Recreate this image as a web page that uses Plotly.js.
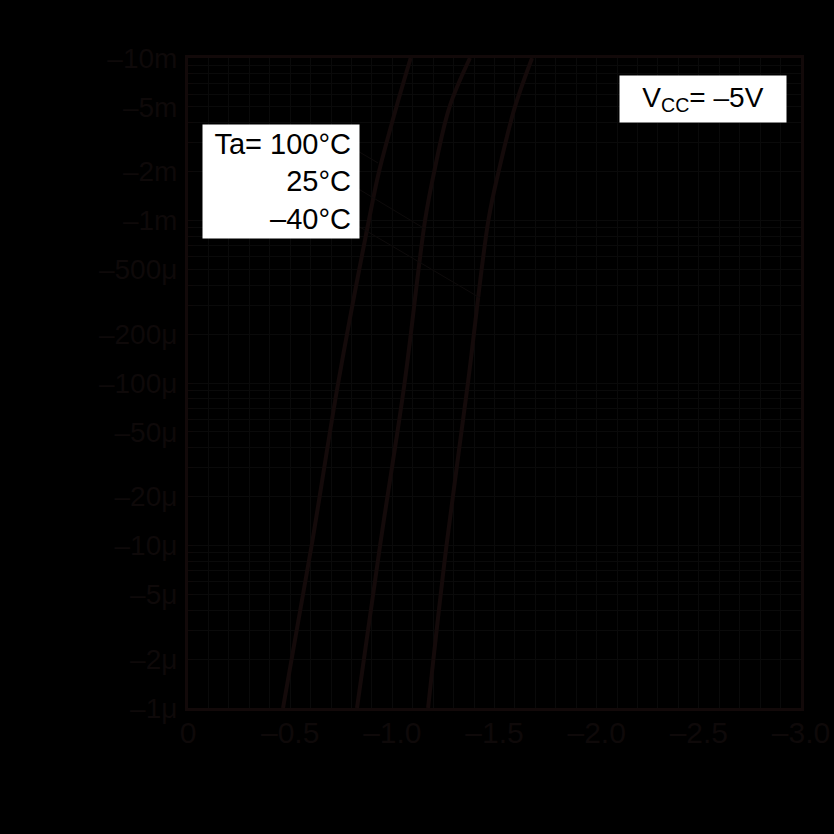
<!DOCTYPE html>
<html>
<head>
<meta charset="utf-8">
<script src="https://cdn.plot.ly/plotly-3.0.1.min.js"></script>
<style>html,body{margin:0;padding:0;background:#000;}#chart{width:834px;height:834px;}</style>
</head>
<body>
<div id="chart"></div>
<script>
// Input current magnitude (A) at which each curve was read
const currentA = [1e-6, 1e-5, 1e-4, 1e-3, 2e-3, 5e-3, 1e-2];
// Input voltage (V) for each temperature
const vTa100 = [-0.465, -0.605, -0.735, -0.885, -0.935, -1.02, -1.09];
const vTa25  = [-0.827, -0.94, -1.06, -1.16, -1.205, -1.28, -1.38];
const vTaM40 = [-1.175, -1.265, -1.37, -1.47, -1.52, -1.60, -1.684];

// Axis ticks
const xTickVals = [0, -0.5, -1.0, -1.5, -2.0, -2.5, -3.0];
const xTickText = ["0", "–0.5", "–1.0", "–1.5", "–2.0", "–2.5", "–3.0"];
const yLabelVals = [1e-6, 2e-6, 5e-6, 1e-5, 2e-5, 5e-5, 1e-4, 2e-4, 5e-4, 1e-3, 2e-3, 5e-3, 1e-2];
const yLabelText = ["–1μ", "–2μ", "–5μ", "–10μ", "–20μ", "–50μ", "–100μ", "–200μ", "–500μ", "–1m", "–2m", "–5m", "–10m"];

// Legend leader lines: [x0, log y0, x1, log y1]
const leaders = [
  [-0.80, -2.55, -0.93, -2.646],
  [-0.80, -2.78, -1.16, -3.052],
  [-0.80, -3.01, -1.43, -3.477]
];

// all log grid values 1..9 per decade, labelled only where the reference labels them
const yTickVals = [], yTickText = [];
for (let e = -6; e <= -2; e++) {
  for (let m = 1; m <= 9; m++) {
    if (e === -2 && m > 1) break;
    const v = +(m * Math.pow(10, e)).toPrecision(3);
    yTickVals.push(v);
    const idx = yLabelVals.findIndex(u => Math.abs(u - v) / v < 1e-6);
    yTickText.push(idx >= 0 ? yLabelText[idx] : " ");
  }
}

const lineCol = '#140a0a';
const textCol = '#0e0909';
const gridCol = '#0a0a0a';

const mk = (xs, name) => ({
  x: xs, y: currentA, type: 'scatter', mode: 'lines', name: name,
  line: {color: lineCol, width: 4, shape: 'spline', smoothing: 1},
  hoverinfo: 'skip'
});

const data = [mk(vTa100, 'Ta=100°C'), mk(vTa25, 'Ta=25°C'), mk(vTaM40, 'Ta=-40°C')];

const shapes = leaders.map(l => ({
  type: 'line', xref: 'x', yref: 'y',
  x0: l[0], y0: Math.pow(10, l[1]), x1: l[2], y1: Math.pow(10, l[3]),
  line: {color: '#0e0b0b', width: 1}
}));

const layout = {
  width: 834, height: 834,
  paper_bgcolor: '#000000', plot_bgcolor: '#000000',
  margin: {l: 188, r: 33, t: 58, b: 126},
  showlegend: false,
  font: {family: 'Liberation Sans Narrow, Liberation Sans, Arial, sans-serif', color: textCol, size: 28},
  xaxis: {
    range: [0, -3], tickmode: 'array', tickvals: xTickVals, ticktext: xTickText,
    showline: true, linecolor: '#120909', linewidth: 3, mirror: true,
    showgrid: true, gridcolor: gridCol, gridwidth: 1,
    minor: {dtick: 0.1, showgrid: true, gridcolor: gridCol, gridwidth: 1},
    ticks: '', zeroline: false, ticklabelstandoff: -4,
    tickfont: {size: 30, color: textCol}
  },
  yaxis: {
    type: 'log', range: [-6, -2], tickmode: 'array',
    tickvals: yTickVals, ticktext: yTickText,
    showline: true, linecolor: '#120909', linewidth: 3, mirror: true,
    showgrid: true, gridcolor: gridCol, gridwidth: 1,
    ticks: 'inside', ticklen: 5, tickcolor: '#0e0909',
    zeroline: false, ticklabelstandoff: 2,
    tickfont: {size: 28, color: textCol}
  },
  shapes: shapes,
  annotations: [
    {
      xref: 'paper', yref: 'paper', x: (202 - 188) / 613, y: 1 - (124 - 58) / 650,
      xanchor: 'left', yanchor: 'top', showarrow: false, align: 'right',
      text: 'Ta= 100°C<br>25°C<br>–40°C',
      bgcolor: '#ffffff', borderpad: 8, width: 140, height: 97,
      font: {family: 'Liberation Sans, Arial, sans-serif', size: 29, color: '#000000'}
    },
    {
      xref: 'paper', yref: 'paper', x: (619 - 188) / 613, y: 1 - (75 - 58) / 650,
      xanchor: 'left', yanchor: 'top', showarrow: false, align: 'center',
      text: 'V<sub>CC</sub>= –5V', width: 158, height: 38,
      bgcolor: '#ffffff', borderpad: 4,
      font: {family: 'Liberation Sans, Arial, sans-serif', size: 28, color: '#000000'}
    }
  ]
};

Plotly.newPlot('chart', data, layout, {displayModeBar: false, staticPlot: true});
</script>
</body>
</html>
